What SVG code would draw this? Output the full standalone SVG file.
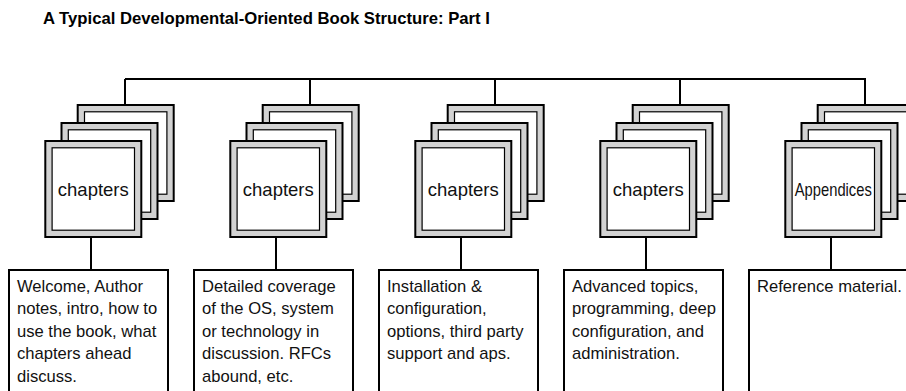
<svg xmlns="http://www.w3.org/2000/svg" xmlns:xlink="http://www.w3.org/1999/xlink" width="906" height="391" viewBox="0 0 906 391">
<style>
.title{font-family:"Liberation Sans",Arial,sans-serif;font-weight:bold;font-size:16.7px;fill:#000}
.lbl{font-family:"Liberation Sans",Arial,sans-serif;font-size:18.5px;fill:#111;text-anchor:middle}
.desc{font-family:"Liberation Sans",Arial,sans-serif;font-size:16.6px;fill:#111}
.box{fill:#fff;stroke:#000;stroke-width:2}
.conn{stroke:#000;stroke-width:2;fill:none}
</style>
<defs>
<g id="card">
<rect x="1" y="1" width="96" height="96" fill="#d2d2d2" stroke="#000" stroke-width="2"/>
<rect x="7.8" y="7.8" width="82.4" height="82.4" fill="#fff" stroke="#000" stroke-width="1.2"/>
</g>
<g id="stack">
<use xlink:href="#card" x="32.4" y="-36"/>
<use xlink:href="#card" x="16.2" y="-18"/>
<use xlink:href="#card" x="0" y="0"/>
</g>
</defs>
<rect width="906" height="391" fill="#fff"/>
<text class="title" x="43" y="24">A Typical Developmental-Oriented Book Structure: Part I</text>
<g id="connectors">
<path class="conn" d="M125 79V104M125 79H865V104M310 79V104M495 79V104M680 79V104"/>
<path class="conn" d="M91 238V270M276 238V270M461 238V270M646 238V270M831 238V270"/>
</g>
<g id="stack1"><use xlink:href="#stack" x="44.3" y="140"/><text class="lbl" x="93.3" y="196">chapters</text></g>
<g id="stack2"><use xlink:href="#stack" x="229.3" y="140"/><text class="lbl" x="278.3" y="196">chapters</text></g>
<g id="stack3"><use xlink:href="#stack" x="414.3" y="140"/><text class="lbl" x="463.3" y="196">chapters</text></g>
<g id="stack4"><use xlink:href="#stack" x="599.3" y="140"/><text class="lbl" x="648.3" y="196">chapters</text></g>
<g id="stack5"><use xlink:href="#stack" x="784.3" y="140"/><text class="lbl" x="833.3" y="196" textLength="77" lengthAdjust="spacingAndGlyphs">Appendices</text></g>
<g id="desc1"><rect class="box" x="9" y="270" width="159" height="140"/>
<text class="desc"><tspan x="17" y="291.7">Welcome, Author</tspan><tspan x="17" y="314.2">notes, intro, how to</tspan><tspan x="17" y="336.7">use the book, what</tspan><tspan x="17" y="359.2">chapters ahead</tspan><tspan x="17" y="381.7">discuss.</tspan></text></g>
<g id="desc2"><rect class="box" x="194" y="270" width="159" height="140"/>
<text class="desc"><tspan x="202" y="291.7">Detailed coverage</tspan><tspan x="202" y="314.2">of the OS, system</tspan><tspan x="202" y="336.7">or technology in</tspan><tspan x="202" y="359.2">discussion. RFCs</tspan><tspan x="202" y="381.7">abound, etc.</tspan></text></g>
<g id="desc3"><rect class="box" x="379" y="270" width="159" height="140"/>
<text class="desc"><tspan x="387" y="291.7">Installation &amp;</tspan><tspan x="387" y="314.2">configuration,</tspan><tspan x="387" y="336.7">options, third party</tspan><tspan x="387" y="359.2">support and aps.</tspan></text></g>
<g id="desc4"><rect class="box" x="564" y="270" width="159" height="140"/>
<text class="desc"><tspan x="572" y="291.7">Advanced topics,</tspan><tspan x="572" y="314.2">programming, deep</tspan><tspan x="572" y="336.7">configuration, and</tspan><tspan x="572" y="359.2">administration.</tspan></text></g>
<g id="desc5"><rect class="box" x="749" y="270" width="159" height="140"/>
<text class="desc"><tspan x="757" y="291.7">Reference material.</tspan></text></g>
</svg>
